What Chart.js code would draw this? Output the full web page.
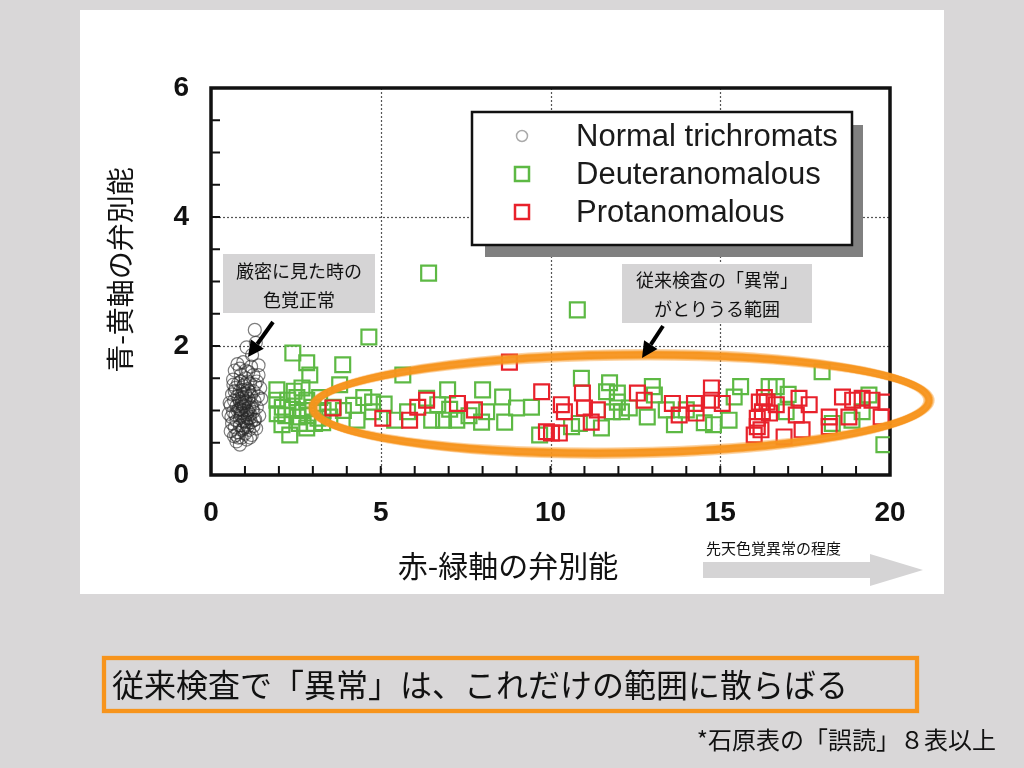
<!DOCTYPE html>
<html>
<head>
<meta charset="utf-8">
<title>赤-緑軸と青-黄軸の弁別能</title>
<script src="https://cdn.jsdelivr.net/npm/chart.js@4.4.1/dist/chart.umd.min.js"></script>
<style>
  html, body { margin: 0; padding: 0; background: #d9d7d8; }
  canvas { display: block; }
</style>
</head>
<body>
<canvas id="chart" width="1024" height="768"></canvas>
<script>
// --- data ---
const seriesNames = ['Normal trichromats', 'Deuteranomalous', 'Protanomalous'];
const xLabelValues = [0, 5, 10, 15, 20];
const yLabelValues = [0, 2, 4, 6];
const xGridValues = [5, 10, 15];
const yGridValues = [2, 4];

const normalX = [1.29, 1.32, 1.05, 1.21, 0.78, 0.95, 1.40, 0.70, 1.10, 1.25, 0.88, 0.65, 1.02, 1.35, 0.80, 1.15, 0.95, 1.45, 0.72, 1.08,
  1.25, 0.85, 0.62, 1.00, 1.18, 1.38, 0.78, 0.92, 1.10, 0.68, 1.28, 0.85, 1.02, 1.20, 0.58, 0.75, 0.95, 1.12, 1.35, 0.82,
  1.05, 0.65, 1.25, 0.90, 1.15, 0.72, 1.00, 1.42, 0.60, 0.85, 1.08, 1.30, 0.75, 0.95, 1.18, 0.62, 1.05, 0.85, 1.25, 0.70,
  0.95, 1.12, 0.58, 0.80, 1.00, 1.20, 0.68, 0.90, 0.75, 1.05, 0.85, 0.90, 1.00, 0.95, 1.10, 0.88, 1.00, 0.92, 1.05, 0.82,
  1.12, 0.98, 0.88, 1.08, 0.78, 1.22, 0.70, 1.30, 0.92, 1.08, 0.80, 1.15, 1.02, 0.85, 1.18, 0.98, 1.06, 0.86, 1.14, 0.94,
  0.55, 1.48, 0.52, 1.40, 0.66, 1.33, 0.74, 1.27, 0.97, 1.03];
const normalY = [2.25, 2.05, 1.98, 1.86, 1.72, 1.75, 1.70, 1.62, 1.60, 1.55, 1.55, 1.48, 1.50, 1.45, 1.42, 1.42, 1.38, 1.35, 1.35, 1.33,
  1.30, 1.30, 1.25, 1.27, 1.24, 1.22, 1.22, 1.20, 1.18, 1.15, 1.15, 1.14, 1.12, 1.10, 1.08, 1.07, 1.06, 1.05, 1.05, 1.02,
  1.00, 0.98, 0.98, 0.96, 0.94, 0.93, 0.92, 0.92, 0.90, 0.88, 0.88, 0.86, 0.84, 0.83, 0.82, 0.80, 0.78, 0.77, 0.76, 0.74,
  0.72, 0.70, 0.68, 0.66, 0.64, 0.62, 0.60, 0.58, 0.52, 0.55, 0.47, 1.10, 1.15, 1.00, 0.98, 0.92, 0.85, 1.25, 1.22, 1.18,
  1.30, 1.40, 1.45, 1.45, 1.00, 1.02, 1.30, 1.40, 0.70, 0.75, 0.58, 0.58, 1.62, 1.65, 1.68, 1.08, 0.95, 1.02, 0.88, 1.32,
  1.12, 1.18, 0.95, 1.55, 1.40, 0.72, 0.62, 0.85, 1.12, 0.82];

const deutX = [2.41, 2.82, 3.88, 2.91, 3.79, 2.68, 1.94, 1.94, 2.26, 2.53, 2.82, 3.20, 2.10, 2.40, 2.70, 3.00, 3.30, 2.20, 2.55, 2.85,
  3.15, 3.50, 2.32, 2.82, 2.09, 3.29, 2.60, 3.05, 1.95, 2.45, 3.60, 3.90, 4.20, 4.65, 4.76, 4.76, 4.50, 4.30,
  6.41, 10.79, 5.65, 8.00, 6.97, 8.59, 6.35, 6.68, 7.03, 8.12, 9.44, 9.00, 5.79, 5.41, 6.50, 6.85, 7.24, 7.97, 8.65, 9.68, 7.60, 5.10,
  10.91, 11.74, 11.65, 11.97, 13.00, 13.06, 10.85, 11.50, 10.62, 11.82, 12.09, 12.32, 12.85, 11.97, 13.65, 14.00, 14.53, 13.41,
  18.00, 15.60, 16.44, 16.65, 15.41, 19.38, 16.94, 19.18, 18.88, 15.26, 14.80, 18.30, 19.82, 17.00];
const deutY = [1.89, 1.74, 1.71, 1.55, 1.40, 1.35, 1.32, 1.16, 1.16, 1.20, 1.16, 1.20, 1.05, 1.02, 1.00, 1.05, 1.00, 0.92, 0.90, 0.92,
  0.88, 0.90, 0.62, 0.73, 0.78, 0.81, 0.80, 0.80, 0.95, 1.30, 1.05, 1.00, 1.08, 2.14, 1.13, 0.98, 1.20, 0.85,
  3.13, 2.56, 1.55, 1.32, 1.32, 1.21, 1.19, 1.09, 1.02, 0.98, 1.05, 1.04, 0.98, 0.85, 0.85, 0.85, 0.85, 0.82, 0.82, 0.62, 0.92, 1.10,
  1.50, 1.43, 1.29, 1.27, 1.37, 1.24, 0.80, 0.73, 0.75, 0.98, 0.98, 1.04, 0.90, 1.13, 0.78, 1.01, 0.81, 1.01,
  1.60, 1.37, 1.37, 1.37, 1.21, 1.24, 0.98, 0.98, 0.85, 0.85, 0.78, 0.80, 0.47, 1.25];

const protX = [3.59, 8.79, 9.74, 6.35, 6.09, 7.26, 7.76, 5.06, 5.85, 9.88, 10.94, 12.56, 12.76, 10.32, 10.41, 11.00, 11.38, 11.20, 10.03, 10.26,
  13.59, 13.79, 14.24, 14.29, 14.74, 14.74, 15.06, 16.15, 16.38, 16.65, 17.32, 17.62, 18.60, 18.90, 19.18, 19.47, 19.88, 16.24, 16.45, 17.24,
  18.21, 18.79, 19.74, 16.09, 18.21, 16.00, 16.88, 17.41, 16.09, 16.30, 16.20];
const protY = [1.04, 1.75, 1.29, 1.16, 1.05, 1.11, 1.01, 0.88, 0.85, 0.67, 1.27, 1.27, 1.16, 1.09, 0.98, 1.04, 1.01, 0.82, 0.65, 0.65,
  1.11, 0.93, 1.11, 0.96, 1.35, 1.16, 1.11, 1.13, 1.13, 1.09, 1.19, 1.09, 1.21, 1.16, 1.19, 1.16, 1.13, 0.98, 0.96, 0.93,
  0.90, 0.90, 0.90, 0.75, 0.75, 0.62, 0.59, 0.70, 0.88, 1.20, 0.70];

// --- styles ---
const JP = '"Noto Sans CJK JP", "Noto Sans", sans-serif';
const NUM = '"Liberation Sans", Arial, sans-serif';
const GREEN = '#5db944';
const RED = '#e8212b';
const ORANGE = '#f7941d';

function toPoints(xs, ys) {
  return xs.map((x, i) => ({ x: x, y: ys[i] }));
}

function roughRect(ctx, x, y, w, h) {
  ctx.strokeStyle = ORANGE;
  [[0, 4, 1], [1.5, 1.5, 0.6], [-1.5, 1.5, 0.6]].forEach(([d, lw, a]) => {
    ctx.globalAlpha = a;
    ctx.lineWidth = lw;
    ctx.strokeRect(x - d, y - d, w + 2 * d, h + 2 * d);
  });
  ctx.globalAlpha = 1;
}

function arrow(ctx, x1, y1, x2, y2) {
  const ang = Math.atan2(y2 - y1, x2 - x1);
  const hl = 16, hw = 8;
  const bx = x2 - hl * Math.cos(ang), by = y2 - hl * Math.sin(ang);
  ctx.strokeStyle = '#000';
  ctx.fillStyle = '#000';
  ctx.lineWidth = 4;
  ctx.beginPath();
  ctx.moveTo(x1, y1);
  ctx.lineTo(bx, by);
  ctx.stroke();
  ctx.beginPath();
  ctx.moveTo(x2, y2);
  ctx.lineTo(bx + hw * Math.sin(ang), by - hw * Math.cos(ang));
  ctx.lineTo(bx - hw * Math.sin(ang), by + hw * Math.cos(ang));
  ctx.closePath();
  ctx.fill();
}

function noteBox(ctx, x, y, w, h, lines, ys) {
  ctx.fillStyle = '#d5d4d5';
  ctx.fillRect(x, y, w, h);
  ctx.fillStyle = '#111';
  ctx.font = '18px ' + JP;
  ctx.textAlign = 'center';
  ctx.textBaseline = 'middle';
  lines.forEach((t, i) => ctx.fillText(t, x + w / 2, ys[i]));
}

const decor = {
  id: 'decor',
  beforeDraw(chart) {
    const ctx = chart.ctx;
    ctx.save();
    ctx.fillStyle = '#d9d7d8';
    ctx.fillRect(0, 0, 1024, 768);
    ctx.fillStyle = '#ffffff';
    ctx.fillRect(80, 10, 864, 584);

    // axis titles
    ctx.fillStyle = '#111';
    ctx.font = '30px ' + JP;
    ctx.textAlign = 'center';
    ctx.textBaseline = 'middle';
    ctx.fillText('赤-緑軸の弁別能', 508, 566);
    ctx.save();
    ctx.translate(120, 270);
    ctx.rotate(-Math.PI / 2);
    ctx.font = '28px ' + JP;
    ctx.fillText('青-黄軸の弁別能', 0, 0);
    ctx.restore();

    // grey arrow: severity
    ctx.fillStyle = '#d5d4d5';
    ctx.fillRect(703, 562, 168, 16);
    ctx.beginPath();
    ctx.moveTo(870, 554);
    ctx.lineTo(923, 570);
    ctx.lineTo(870, 586);
    ctx.closePath();
    ctx.fill();
    ctx.fillStyle = '#111';
    ctx.font = '15px ' + JP;
    ctx.textAlign = 'left';
    ctx.fillText('先天色覚異常の程度', 706, 548);

    // bottom message
    roughRect(ctx, 104, 658, 813, 53);
    ctx.fillStyle = '#111';
    ctx.font = '32px ' + JP;
    ctx.textAlign = 'left';
    ctx.fillText('従来検査で「異常」は、これだけの範囲に散らばる', 112, 685);
    ctx.font = '24px ' + JP;
    ctx.textAlign = 'right';
    ctx.fillText('*石原表の「誤読」８表以上', 996, 740);
    ctx.restore();
  },
  beforeDatasetsDraw(chart) {
    const ctx = chart.ctx;
    const a = chart.chartArea;
    const xs = chart.scales.x, ys = chart.scales.y;
    ctx.save();
    // dotted grid
    ctx.strokeStyle = '#555';
    ctx.lineWidth = 1.2;
    ctx.setLineDash([2, 2]);
    xGridValues.forEach(v => {
      const px = Math.round(xs.getPixelForValue(v)) + 0.5;
      ctx.beginPath(); ctx.moveTo(px, a.top); ctx.lineTo(px, a.bottom); ctx.stroke();
    });
    yGridValues.forEach(v => {
      const py = Math.round(ys.getPixelForValue(v)) + 0.5;
      ctx.beginPath(); ctx.moveTo(a.left, py); ctx.lineTo(a.right, py); ctx.stroke();
    });
    ctx.setLineDash([]);
    // inward ticks
    ctx.strokeStyle = '#111';
    ctx.lineWidth = 2;
    for (let v = 1; v < 20; v++) {
      const px = xs.getPixelForValue(v);
      ctx.beginPath(); ctx.moveTo(px, a.bottom); ctx.lineTo(px, a.bottom - 9); ctx.stroke();
    }
    for (let v = 0.5; v < 6; v += 0.5) {
      const py = ys.getPixelForValue(v);
      ctx.beginPath(); ctx.moveTo(a.left, py); ctx.lineTo(a.left + 9, py); ctx.stroke();
    }
    // frame
    ctx.lineWidth = 3.5;
    ctx.strokeRect(a.left, a.top, a.right - a.left, a.bottom - a.top);
    ctx.restore();
  },
  afterDatasetsDraw(chart) {
    const ctx = chart.ctx;
    ctx.save();
    // orange ellipse around the anomalous range
    ctx.strokeStyle = ORANGE;
    [[0, 7, 0.95], [3, 3, 0.7], [-3, 3, 0.7], [5, 1.5, 0.4], [-5, 1.5, 0.4]].forEach(([d, lw, al]) => {
      ctx.globalAlpha = al;
      ctx.lineWidth = lw;
      ctx.beginPath();
      ctx.ellipse(621, 404, 308 + d, 49 + d, -0.012, 0, Math.PI * 2);
      ctx.stroke();
    });
    ctx.globalAlpha = 1;

    // notes and arrows
    noteBox(ctx, 223, 254, 152, 59, ['厳密に見た時の', '色覚正常'], [271, 300]);
    arrow(ctx, 273, 322, 248, 357);
    noteBox(ctx, 622, 264, 190, 59, ['従来検査の「異常」', 'がとりうる範囲'], [280, 309]);
    arrow(ctx, 663, 326, 642, 358);

    // legend with shadow
    ctx.fillStyle = '#808080';
    ctx.fillRect(485, 125, 378, 132);
    ctx.fillStyle = '#fff';
    ctx.fillRect(472, 112, 380, 133);
    ctx.strokeStyle = '#111';
    ctx.lineWidth = 2.5;
    ctx.strokeRect(472, 112, 380, 133);
    const rows = [136, 174, 212];
    ctx.lineWidth = 1.5;
    ctx.strokeStyle = '#aaa';
    ctx.beginPath(); ctx.arc(522, rows[0], 5.5, 0, Math.PI * 2); ctx.stroke();
    ctx.lineWidth = 2.5;
    ctx.strokeStyle = GREEN;
    ctx.strokeRect(515, rows[1] - 7, 14, 14);
    ctx.strokeStyle = RED;
    ctx.strokeRect(515, rows[2] - 7, 14, 14);
    ctx.fillStyle = '#1a1a1a';
    ctx.font = '31px ' + NUM;
    ctx.textAlign = 'left';
    ctx.textBaseline = 'middle';
    seriesNames.forEach((n, i) => ctx.fillText(n, 576, rows[i] + 1));
    ctx.restore();
  }
};

new Chart(document.getElementById('chart'), {
  type: 'scatter',
  data: {
    datasets: [
      {
        label: seriesNames[2],
        data: toPoints(protX, protY),
        pointStyle: 'rect',
        pointRadius: 10.5,
        borderWidth: 2.2,
        borderColor: RED,
        backgroundColor: 'rgba(0,0,0,0)',
        order: 1
      },
      {
        label: seriesNames[1],
        data: toPoints(deutX, deutY),
        pointStyle: 'rect',
        pointRadius: 10.5,
        borderWidth: 2.2,
        borderColor: GREEN,
        backgroundColor: 'rgba(0,0,0,0)',
        order: 2
      },
      {
        label: seriesNames[0],
        data: toPoints(normalX, normalY),
        pointStyle: 'circle',
        pointRadius: 6.5,
        borderWidth: 1.2,
        borderColor: 'rgba(40,40,40,0.6)',
        backgroundColor: 'rgba(0,0,0,0)',
        order: 3
      }
    ]
  },
  options: {
    responsive: false,
    animation: false,
    layout: { padding: { left: 0, top: 88, right: 134, bottom: 0 } },
    plugins: {
      legend: { display: false },
      tooltip: { enabled: false }
    },
    scales: {
      x: {
        type: 'linear',
        min: 0,
        max: 20,
        grid: { display: false, drawTicks: false },
        border: { display: false },
        afterFit(scale) { scale.height = 293; },
        afterBuildTicks(scale) { scale.ticks = xLabelValues.map(v => ({ value: v })); },
        ticks: {
          autoSkip: false,
          maxRotation: 0,
          padding: 21,
          color: '#111',
          font: { family: NUM, size: 28, weight: 'bold' }
        }
      },
      y: {
        type: 'linear',
        min: 0,
        max: 6,
        grid: { display: false, drawTicks: false },
        border: { display: false },
        afterFit(scale) { scale.width = 211; },
        afterBuildTicks(scale) { scale.ticks = yLabelValues.map(v => ({ value: v })); },
        ticks: {
          autoSkip: false,
          padding: 22,
          color: '#111',
          font: { family: NUM, size: 28, weight: 'bold' }
        }
      }
    }
  },
  plugins: [decor]
});
</script>
</body>
</html>
